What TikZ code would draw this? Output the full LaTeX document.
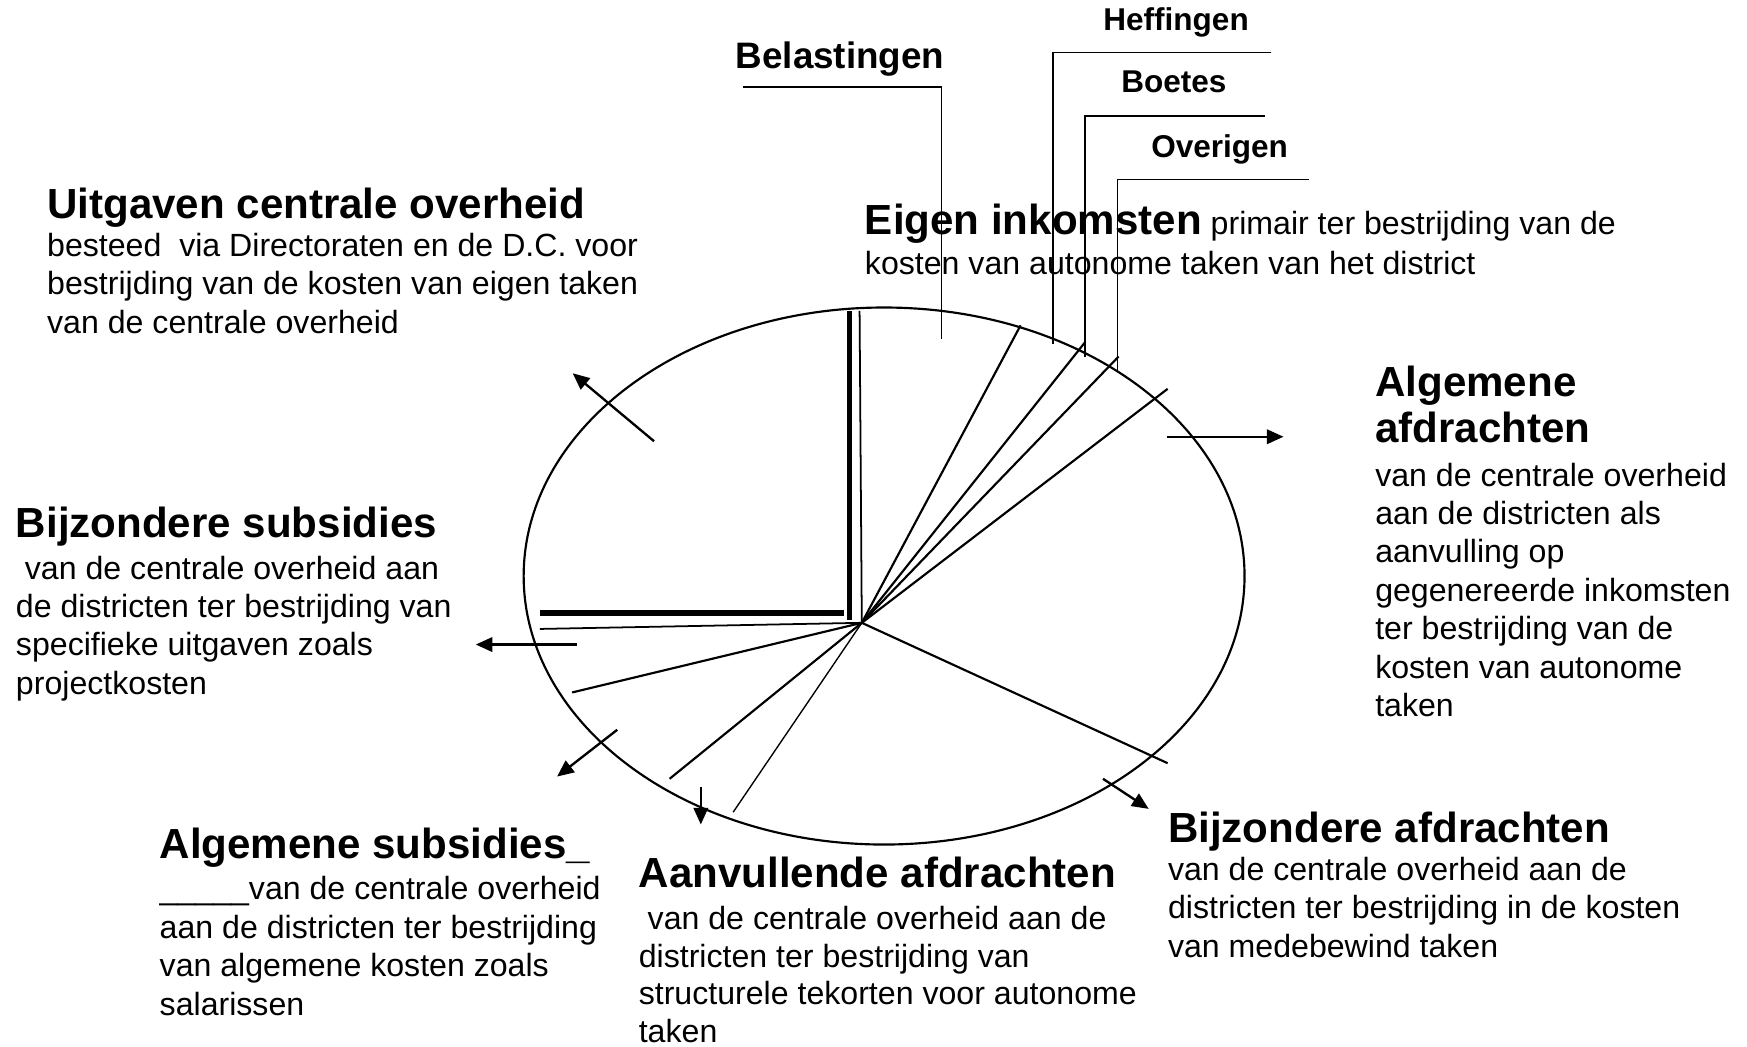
\documentclass[tikz,border=0pt]{standalone}
\usepackage{fontspec}
\setmainfont{Liberation Sans}
\usetikzlibrary{positioning,arrows.meta}

\newcommand{\kop}{\fontsize{21.5}{25}\selectfont\bfseries}
\newcommand{\lblfont}{\fontsize{16.1}{19}\selectfont\bfseries}

\begin{document}
\begin{tikzpicture}[>={Triangle[length=0.30cm,width=0.26cm]},
    txt/.style={anchor=north west,inner sep=0pt,align=left,font=\fontsize{16.4}{19.6}\selectfont},
    lbl/.style={anchor=north west,inner sep=0pt,font=\lblfont},
    pie/.style={line width=1.1pt},
    callout/.style={line width=0.8pt},
    uit/.style={->,line width=1.2pt}]
    \useasboundingbox (0,0) rectangle (31.36,18.78);
    \draw[pie] (15.87,8.44) ellipse (6.47 and 4.82);
    \coordinate (hub) at (15.47,7.60);
    \draw[line width=2.8pt] (15.25,13.20) -- (15.25,7.65);
    \draw[line width=0.9pt] (15.43,13.20) -- (hub);
    \draw[line width=2.8pt] (9.69,7.78) -- (15.15,7.78);
    \draw[line width=0.9pt] (9.69,7.49) -- (hub);
    \foreach \e in {(18.32,12.94),(19.48,12.64),(20.08,12.38),(20.96,11.80),(20.96,5.08),(12.02,4.80),(10.27,6.35)}
        \draw[pie] (hub) -- \e;
    \draw[line width=0.7pt] (hub) -- (13.16,4.20);

    \node[lbl,font=\fontsize{18.8}{22}\selectfont\bfseries] (belastingen) at (13.20,18.04) {Belastingen};
    \node[lbl] (heffingen) at (19.80,18.65) {Heffingen};
    \node[lbl] (boetes) at (20.12,17.51) {Boetes};
    \node[lbl] (overigen) at (20.66,16.37) {Overigen};
    \draw[callout] (13.34,17.22) -| (16.90,12.70);
    \draw[callout] (22.82,17.84) -| (18.90,12.60);
    \draw[callout] (22.70,16.70) -| (19.48,12.38);
    \draw[callout] (23.50,15.56) -| (20.06,12.12);

    \node[txt] (uitgaven) at (0.84,15.42) {{\kop Uitgaven centrale overheid}\\ besteed \ via Directoraten en de D.C. voor\\ bestrijding van de kosten van eigen taken\\ van de centrale overheid};
    \node[txt] (eigen) at (15.52,15.12) {{\kop Eigen inkomsten} primair ter bestrijding van de\\[0.03cm] kosten van autonome taken van het district};
    \node[txt] (algafd) at (24.68,12.22) {{\kop Algemene}\\[0.09cm] {\kop afdrachten}\\[0.09cm] van de centrale overheid\\ aan de districten als\\ aanvulling op\\ gegenereerde inkomsten\\ ter bestrijding van de\\ kosten van autonome\\ taken};
    \node[txt] (bijzsub) at (0.28,9.68) {{\kop Bijzondere subsidies}\\[0.05cm] \ van de centrale overheid aan\\ de districten ter bestrijding van\\ specifieke uitgaven zoals\\ projectkosten};
    \node[txt] (bijzafd) at (20.96,4.22) {{\kop Bijzondere afdrachten}\\ van de centrale overheid aan de\\ districten ter bestrijding in de kosten\\ van medebewind taken};
    \node[txt] (algsub) at (2.86,3.92) {{\kop Algemene subsidies\_}\\[0.05cm] \_\_\_\_\_van de centrale overheid\\ aan de districten ter bestrijding\\ van algemene kosten zoals\\ salarissen};
    \node[txt,font=\fontsize{16.4}{19.3}\selectfont] (aanv) at (11.46,3.40) {{\kop Aanvullende afdrachten}\\[0.07cm] \ van de centrale overheid aan de\\ districten ter bestrijding van\\ structurele tekorten voor autonome\\ taken};

    \coordinate (uitgaven-a) at (11.74,10.86);
    \coordinate (uitgaven-b) at (10.28,12.08);
    \coordinate (algafd-a) at (20.94,10.94);
    \coordinate (algafd-b) at (23.04,10.94);
    \coordinate (bijzsub-a) at (10.35,7.21);
    \coordinate (bijzsub-b) at (8.54,7.21);
    \coordinate (algsub-a) at (11.08,5.68);
    \coordinate (algsub-b) at (10.00,4.84);
    \coordinate (aanv-a) at (12.58,4.66);
    \coordinate (aanv-b) at (12.58,3.98);
    \coordinate (bijzafd-a) at (19.80,4.80);
    \coordinate (bijzafd-b) at (20.62,4.26);
    \foreach \n in {uitgaven,algafd,bijzsub,algsub,aanv,bijzafd}
        \draw[uit] (\n-a) -- (\n-b);
\end{tikzpicture}
\end{document}
